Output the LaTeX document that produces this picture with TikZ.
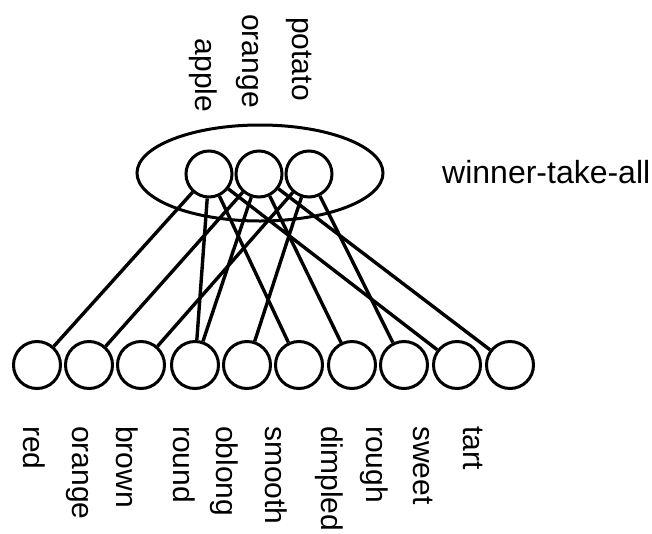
\documentclass[tikz,border=0pt]{standalone}
\usepackage{fontspec}
\setmainfont{Liberation Sans}
\begin{document}
\begin{tikzpicture}[x=1pt,y=1pt,
  unit/.style={circle,draw,line width=3pt,inner sep=0pt,minimum size=#1},
  link/.style={line width=3.4pt},
  lbl/.style={rotate=-90,anchor=base west,inner sep=0pt,font=\fontsize{30}{30}\selectfont},
  ]
\useasboundingbox (0,0) rectangle (652,-533);

% winner-take-all pool
\draw[line width=3pt] (260,-173) ellipse [x radius=123, y radius=48];
\node[unit=46pt] (apple)  at (209,-174) {};
\node[unit=46pt] (orange) at (259,-174) {};
\node[unit=46pt] (potato) at (309,-174) {};
\node[anchor=base west,inner sep=0pt,font=\fontsize{32}{32}\selectfont] (wta) at (442,-183) {winner-take-all};

% feature units
\foreach \n/\x in {red/37, orng/89, brown/141, round/195, oblong/247,
                   smooth/299, dimpled/352, rough/404, sweet/457, tart/510}
  \node[unit=47pt] (f-\n) at (\x,-365) {};

% connections
\foreach \a/\b in {apple/red, apple/round, apple/smooth, apple/sweet,
                   orange/orng, orange/round, orange/dimpled, orange/tart,
                   potato/brown, potato/oblong, potato/rough}
  \draw[link] (\a) -- (f-\b);

% output labels
\node[lbl,anchor=base] (l-apple)  at (195,-75.5) {apple};
\node[lbl,anchor=base] (l-orange) at (242,-61) {orange};
\node[lbl,anchor=base] (l-potato) at (292,-59) {potato};

% feature labels
\foreach \t/\x in {red/23, orange/72, brown/116, round/173, oblong/216,
                   smooth/265, dimpled/321, rough/366, sweet/413, tart/463}
  \node[lbl] (l-\t) at (\x,-426) {\t};
\end{tikzpicture}
\end{document}
